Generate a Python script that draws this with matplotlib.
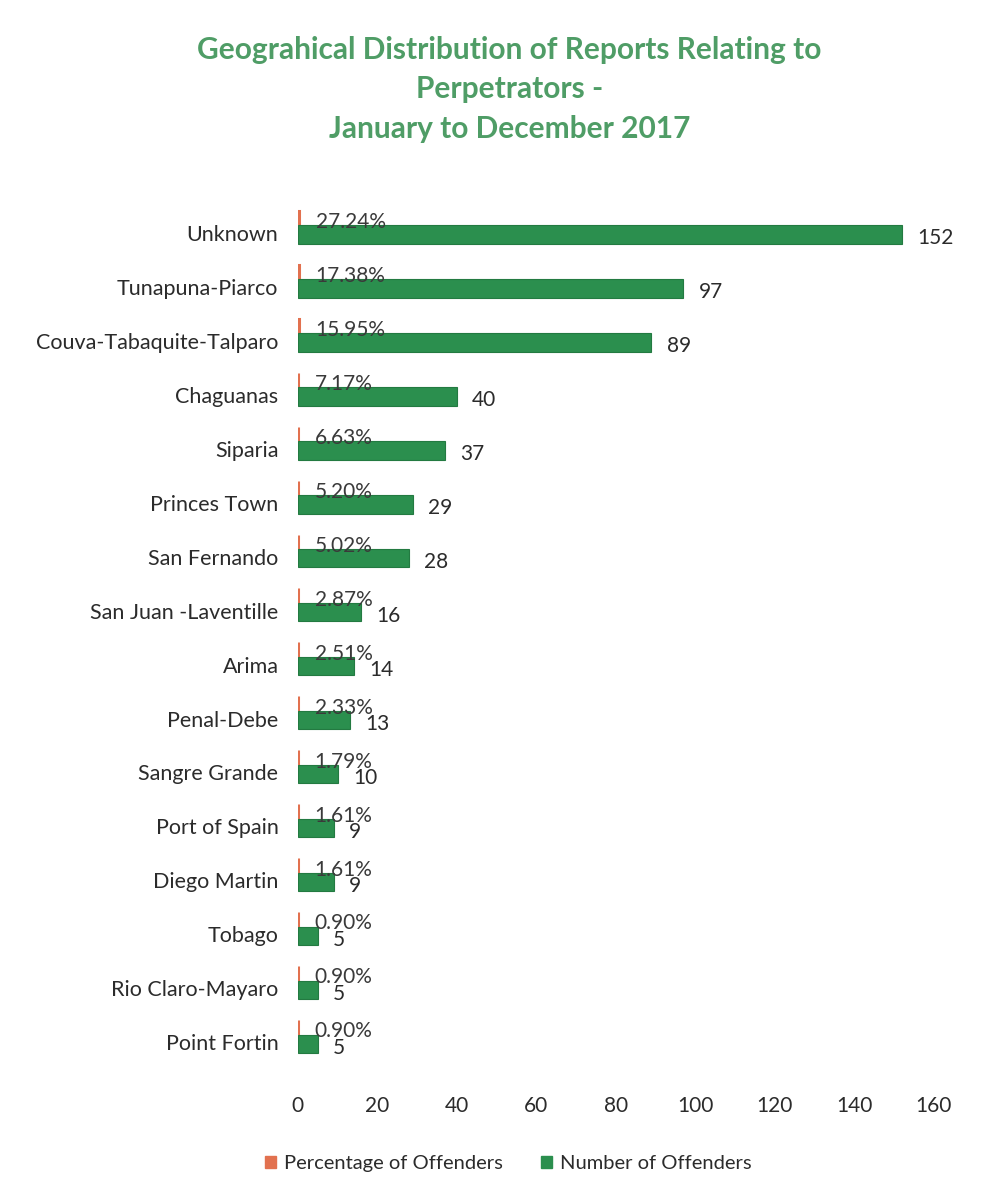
import matplotlib
matplotlib.use("Agg")
import matplotlib.pyplot as plt
from matplotlib.patches import Patch

plt.rcParams['font.family'] = ['Lato', 'DejaVu Sans']

regions = [
    "Unknown", "Tunapuna-Piarco", "Couva-Tabaquite-Talparo", "Chaguanas",
    "Siparia", "Princes Town", "San Fernando", "San Juan -Laventille",
    "Arima", "Penal-Debe", "Sangre Grande", "Port of Spain",
    "Diego Martin", "Tobago", "Rio Claro-Mayaro", "Point Fortin",
]
offenders = [152, 97, 89, 40, 37, 29, 28, 16, 14, 13, 10, 9, 9, 5, 5, 5]
percentages = [27.24, 17.38, 15.95, 7.17, 6.63, 5.20, 5.02, 2.87,
               2.51, 2.33, 1.79, 1.61, 1.61, 0.90, 0.90, 0.90]
x_ticks = [0, 20, 40, 60, 80, 100, 120, 140, 160]

green = "#2b8f4e"
orange = "#e2714f"
title_green = "#4f9d66"
text_gray = "#2b2b2b"

fig = plt.figure(figsize=(9.93, 11.84), dpi=100)
ax = fig.add_axes([0.300, 0.097, 0.640, 0.729])

n = len(regions)
ys = list(range(n))

# percentage series is plotted as a fraction of one, so it stays a sliver
pct_frac = [p / 100 for p in percentages]
ax.barh([y - 0.22 for y in ys], pct_frac, height=0.38, color=orange,
        edgecolor=orange, linewidth=2.2, zorder=2)
ax.barh([y + 0.03 for y in ys], offenders, height=0.34, color=green,
        edgecolor="#237a41", linewidth=0.8, zorder=3)

for y, v, p, f in zip(ys, offenders, percentages, pct_frac):
    ax.annotate(f"{v}", xy=(v, y + 0.1), xytext=(11, 0),
                textcoords="offset points", ha="left", va="center",
                fontsize=15, color=text_gray, zorder=5)
    ax.annotate(f"{p:.2f}%", xy=(f, y - 0.2), xytext=(12, 0),
                textcoords="offset points", ha="left", va="center",
                fontsize=15, color="#3a3a3a", zorder=5)

ax.set_ylim(n - 0.5, -0.5)
ax.set_xlim(0, 160)
ax.set_xticks(x_ticks)
ax.set_xticklabels([str(t) for t in x_ticks], fontsize=15, color=text_gray)
ax.set_yticks(ys)
ax.set_yticklabels(regions, fontsize=15.5, color=text_gray)
ax.tick_params(axis="both", length=0)
ax.tick_params(axis="x", pad=19)
ax.tick_params(axis="y", pad=14)
for s in ax.spines.values():
    s.set_visible(False)

fig.text(0.513, 0.970, "Geograhical Distribution of Reports Relating to\nPerpetrators -\nJanuary to December 2017",
         ha="center", va="top", fontsize=21.5, fontweight="bold",
         color=title_green, linespacing=1.5)

handles = [Patch(facecolor=orange, edgecolor=orange, label="Percentage of Offenders"),
           Patch(facecolor=green, edgecolor=green, label="Number of Offenders")]
fig.legend(handles=handles, loc="center", bbox_to_anchor=(0.512, 0.017),
           ncol=2, frameon=False, fontsize=14.5, handlelength=0.55,
           handleheight=0.55, handletextpad=0.4, columnspacing=1.9,
           labelcolor=text_gray)

fig.savefig("out.png", dpi=100, facecolor="white")
